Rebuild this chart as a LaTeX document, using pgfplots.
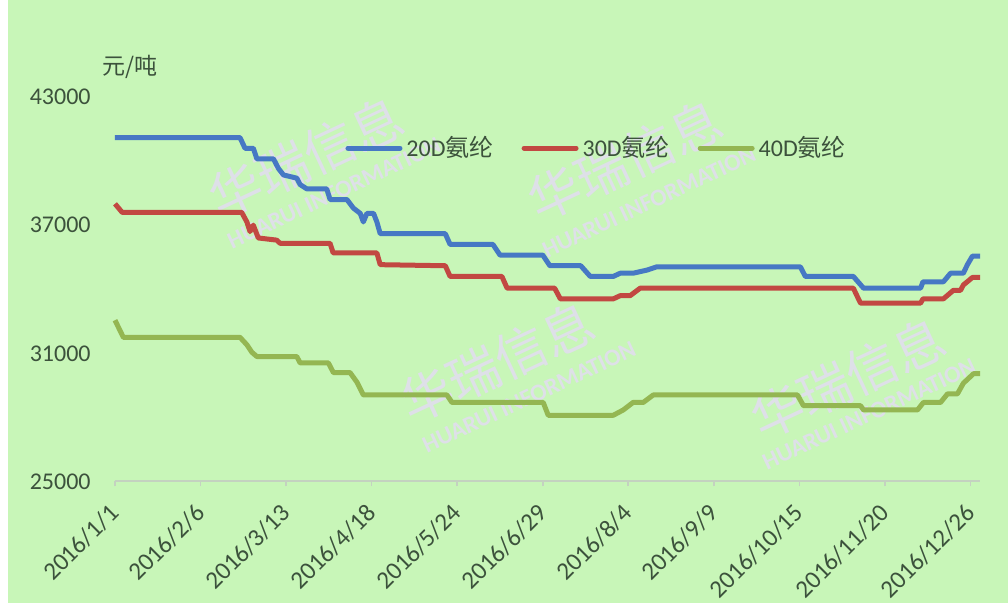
\documentclass[border=0pt]{standalone}
\usepackage{pgfplots}
\pgfplotsset{compat=1.18}
\usepackage{pgfplotstable}
\usepackage{fontspec}
\setmainfont{Carlito}
\newfontfamily\cjk{Noto Sans CJK SC}
\definecolor{bg}{RGB}{200,246,184}
\definecolor{txt}{RGB}{60,82,60}
\definecolor{sblue}{RGB}{70,120,196}
\definecolor{sred}{RGB}{194,72,66}
\definecolor{sgreen}{RGB}{148,182,82}
\definecolor{wm}{RGB}{222,224,232}
\definecolor{axl}{RGB}{196,210,192}

\pgfplotstableread{
day value
0 41100
52.6 41100
54.7 40600
58.2 40600
59.7 40100
66.7 40100
68.8 39650
70.9 39350
76.5 39200
77.9 38900
80.7 38700
89.1 38700
90.5 38200
97.6 38200
100.3 37800
103.2 37550
104.5 37150
106 37550
108.8 37550
110.2 37150
111.6 36600
139 36600
141 36100
159 36100
162 35600
180 35600
183 35100
196 35100
200 34600
209.7 34600
212.6 34750
218 34750
224 34900
228 35050
288.4 35050
290.5 34600
310.7 34600
315 34050
339 34050
340 34350
348.6 34350
351.6 34750
357 34750
358.7 35150
360.8 35550
364 35550
}\dblue

\pgfplotstableread{
day value
0 38000
3 37600
53.3 37600
55.5 37150
56.8 36700
58.2 37000
60.3 36400
68 36300
69.5 36150
90.5 36150
91.8 35700
110.2 35700
111.6 35150
139 35100
141 34600
162.8 34600
165 34050
185 34050
187.4 33550
209.7 33550
212.6 33700
216.8 33700
221 34050
310.7 34050
313.7 33350
339 33350
340 33550
348.6 33550
352.8 33950
355.8 33950
357 34200
360.8 34550
364 34550
}\dred

\pgfplotstableread{
day value
0 32550
3.5 31750
52.6 31750
55.5 31400
57.6 31050
59.7 30850
76.5 30850
77.9 30550
89.8 30550
91.9 30100
98.9 30100
101.8 29650
104.5 29050
139.7 29050
141.8 28700
180.2 28700
182.3 28100
209.7 28100
213.9 28350
218 28700
222.3 28700
226.5 29050
287.2 29050
289.7 28550
313.7 28550
315 28350
337.7 28350
340.2 28700
347.4 28700
350.3 29100
354.5 29100
357 29600
361.3 30050
364 30050
}\dgreen

\begin{document}
\begin{tikzpicture}
\fill[white] (-57.5pt,-60.75pt) rectangle (446.5pt,240.75pt);
\fill[bg] (-53.5pt,-60.75pt) rectangle (446.5pt,240.75pt);
% watermarks
\foreach \cx/\cy/\hx/\hy in {95.5/162.25/109.5/144.25, 255/160.75/267/139.75, 191/59.75/207/42.25, 366.5/51.75/377/33.75}{
  \node[wm, rotate=25, font=\cjk\fontsize{26}{30}\selectfont] at (\cx pt,\cy pt) {华瑞信息};
  \node[wm, rotate=25, font=\bfseries\fontsize{12}{14}\selectfont] at (\hx pt,\hy pt) {HUARUI INFORMATION};
}
\begin{axis}[
  at={(0pt,0pt)}, anchor=south west,
  scale only axis, width=432.5pt, height=192.25pt,
  xmin=0, xmax=364, ymin=25000, ymax=43000,
  clip=false,
  scaled y ticks=false,
  separate axis lines,
  axis x line*=bottom,
  axis y line*=left,
  y axis line style={draw=none},
  x axis line style={draw=axl, line width=1pt},
  xtick={0,36,72,108,144,180,216,252,288,324,360},
  xticklabels={2016/1/1,2016/2/6,2016/3/13,2016/4/18,2016/5/24,2016/6/29,2016/8/4,2016/9/9,2016/10/15,2016/11/20,2016/12/26},
  ytick={25000,31000,37000,43000},
  yticklabels={25000,31000,37000,43000},
  xtick style={draw=axl, line width=0.8pt},
  ytick style={draw=none},
  major tick length=2.5pt,
  tick align=outside,
  xticklabel style={font=\fontsize{12.5}{15}\selectfont, text=txt, rotate=45, anchor=east, inner sep=0pt},
  yticklabel style={font=\fontsize{12}{15}\selectfont, text=txt, anchor=east, inner sep=0pt},
  xticklabel shift=11pt,
  yticklabel shift=9.5pt,
  legend columns=3,
  legend style={at={(axis description cs:0.266,0.867)}, anchor=west, draw=none, fill=none,
    text=txt, font=\fontsize{12}{14}\selectfont,
    /tikz/every even column/.append style={column sep=12pt},
    inner sep=0pt},
  legend image code/.code={\draw[#1, line width=2.5pt, line cap=round] (0pt,0pt) -- (26pt,0pt);},
]
\addplot[sblue, line width=2.5pt, line join=round] table[x=day,y=value] {\dblue};
\addlegendentry{20D{\cjk 氨纶}}
\addplot[sred, line width=2.5pt, line join=round] table[x=day,y=value] {\dred};
\addlegendentry{30D{\cjk 氨纶}}
\addplot[sgreen, line width=2.5pt, line join=round] table[x=day,y=value] {\dgreen};
\addlegendentry{40D{\cjk 氨纶}}
\end{axis}
\node[text=txt, font=\cjk\fontsize{11.5}{14}\selectfont] at (7.5pt,207.25pt) {元/吨};
\pgfresetboundingbox
\path[use as bounding box] (-57.5pt,-60.75pt) rectangle (446.5pt,240.75pt);
\end{tikzpicture}
\end{document}
